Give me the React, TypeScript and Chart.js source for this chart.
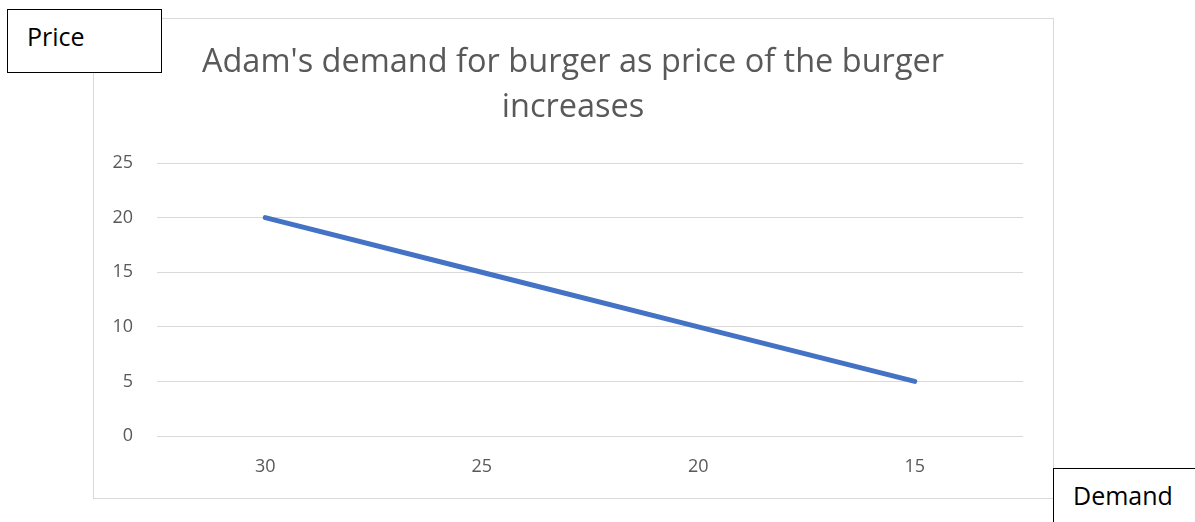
import React, { useEffect, useRef } from "react";
import { Chart, registerables } from "chart.js";

Chart.register(...registerables);

const categories = ["30", "25", "20", "15"];
const priceValues = [20, 15, 10, 5];
const yTicks = [0, 5, 10, 15, 20, 25];
const titleLines = ["Adam's demand for burger as price of the burger", "increases"];

const FONT = "'Open Sans', 'Noto Sans', sans-serif";
const TEXT = "#595959";
const GRID = "#d9d9d9";

export default function App() {
  const ref = useRef<HTMLCanvasElement | null>(null);

  useEffect(() => {
    if (!ref.current) return;
    const chart = new Chart(ref.current, {
      type: "line",
      data: {
        labels: categories,
        datasets: [
          {
            label: "Price",
            data: priceValues,
            borderColor: "#4472C4",
            backgroundColor: "#4472C4",
            borderWidth: 5,
            borderCapStyle: "round",
            borderJoinStyle: "round",
            pointRadius: 0,
            tension: 0,
            yAxisID: "y",
          },
        ],
      },
      options: {
        animation: false,
        responsive: false,
        maintainAspectRatio: false,
        layout: { padding: { left: 93, right: 142, top: 18, bottom: 24 } },
        plugins: {
          legend: { display: false },
          tooltip: { enabled: false },
          title: {
            display: true,
            text: titleLines,
            color: TEXT,
            font: { family: FONT, size: 32.5, weight: "normal", lineHeight: 1.385 },
            padding: { top: 22, bottom: 33 },
          },
        },
        scales: {
          x: {
            type: "category",
            offset: true,
            grid: { display: false, drawTicks: false },
            border: { display: false },
            ticks: { color: TEXT, font: { family: FONT, size: 18 }, padding: 20 },
            afterFit: (s: any) => {
              s.height = 62;
            },
          },
          y: {
            type: "linear",
            position: "left",
            min: 0,
            max: 25,
            afterBuildTicks: (s: any) => {
              s.ticks = yTicks.map((v) => ({ value: v }));
            },
            grid: { color: GRID, lineWidth: 1, drawTicks: false },
            border: { display: false },
            ticks: { color: TEXT, font: { family: FONT, size: 18 }, padding: 24 },
            afterFit: (s: any) => {
              s.width = 64;
            },
          },
          y1: {
            type: "linear",
            position: "right",
            display: true,
            grid: { display: false, drawTicks: false },
            border: { display: false },
            ticks: { display: false },
            afterFit: (s: any) => {
              s.width = 30;
            },
          },
        },
      },
    });
    return () => chart.destroy();
  }, []);

  return (
    <div style={{ position: "fixed", left: 0, top: 0, width: 1195, height: 522, background: "#fff", overflow: "hidden" }}>
      <div
        style={{
          position: "absolute",
          left: 93,
          top: 18,
          width: 961,
          height: 481,
          boxSizing: "border-box",
          border: `1px solid ${GRID}`,
        }}
      />
      <canvas ref={ref} width={1195} height={522} style={{ position: "absolute", left: 0, top: 0, width: 1195, height: 522 }} />
      <div
        style={{
          position: "absolute",
          left: 7,
          top: 9,
          width: 155,
          height: 64,
          boxSizing: "border-box",
          border: "1px solid #000",
          background: "#fff",
        }}
      >
        <span style={{ position: "absolute", left: 19, top: 14, fontFamily: FONT, fontSize: 25, lineHeight: "25px", color: "#000" }}>
          Price
        </span>
      </div>
      <div
        style={{
          position: "absolute",
          left: 1053,
          top: 468,
          width: 150,
          height: 60,
          boxSizing: "border-box",
          border: "1px solid #000",
          background: "#fff",
        }}
      >
        <span style={{ position: "absolute", left: 19, top: 14, fontFamily: FONT, fontSize: 25, lineHeight: "25px", color: "#000" }}>
          Demand
        </span>
      </div>
    </div>
  );
}
